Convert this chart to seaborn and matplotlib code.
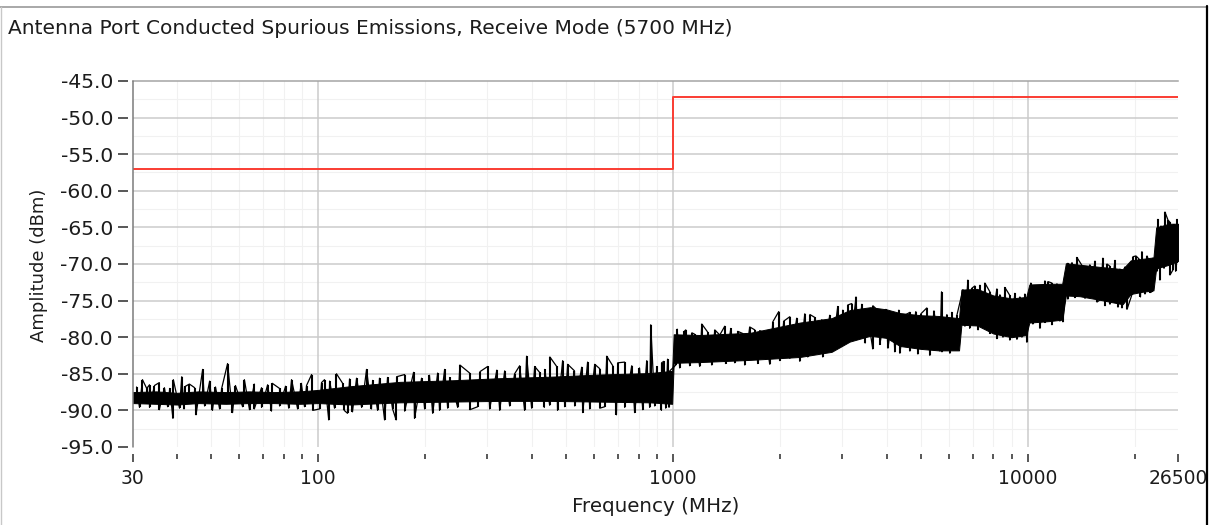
import numpy as np
import pandas as pd
import matplotlib
matplotlib.use("Agg")
import matplotlib.pyplot as plt
import seaborn as sns
from matplotlib.lines import Line2D
from matplotlib.patches import Rectangle
from matplotlib.ticker import FixedLocator, FixedFormatter, NullFormatter

# ---- data -------------------------------------------------------------
# limit line (dBm)
limit_mhz = [30, 1000, 26500]
limit_dbm = [-57.0, -47.2, -47.2]

# dense core of the measured trace: lower / upper edge
band_mhz = [30, 35, 40, 46, 55, 64, 75, 89, 100, 123, 170, 235, 325, 450, 620, 860, 995,
            1005, 1190, 1650, 2280, 2800, 3150, 3600, 4000, 4360, 5000, 5600, 6400,
            6500, 7200, 8000, 9000, 9900, 10100, 11500, 12500, 12800, 14000, 16000, 18500,
            19500, 21000, 22600, 23000, 25000, 26500]
band_lo = [-89.0, -89.1, -89.2, -89.0, -89.1, -89.0, -89.0, -89.1, -89.0,
           -89.2, -88.9, -88.8, -88.7, -88.7, -88.8, -88.9, -89.1,
           -83.5, -83.4, -83.1, -82.7, -82.0, -80.6, -79.8, -80.1, -81.2, -81.6, -81.8, -81.8,
           -78.3, -78.4, -79.5, -80.0, -79.7, -78.0, -77.8, -77.6, -74.3, -74.4, -74.9, -75.5,
           -74.1, -73.8, -73.6, -70.6, -70.1, -69.6]
band_hi = [-87.5, -87.4, -87.6, -87.4, -87.5, -87.4, -87.5, -87.4, -87.2,
           -86.7, -86.1, -85.9, -85.6, -85.4, -85.1, -84.9, -84.6,
           -79.6, -79.7, -79.4, -78.0, -77.4, -76.3, -75.9, -76.2, -76.7, -77.0, -77.1, -77.4,
           -73.5, -73.4, -74.3, -74.7, -74.5, -72.8, -72.7, -72.7, -69.9, -70.1, -70.4, -70.7,
           -69.5, -69.3, -69.1, -65.0, -64.5, -64.5]

# upward excursions of the trace
peak_mhz = [30.8, 32, 32.9, 33.5, 34.6, 35.7, 36.9, 38.2, 39.1, 41.3, 42.3, 43.4, 44.9,
            47.3, 49.5, 51.4, 53.5, 55.6, 58.5, 62, 66.1, 69.3, 72.1, 74.3, 77.9, 81.0,
            84.2, 89.7, 92.8, 95.9,
            102.3, 104.3, 107.8, 112.7, 117.3, 122.7, 128.4, 137, 142.5, 149, 157,
            166.5, 175.4, 185.9, 195.8, 206, 217.3, 227.4, 235, 251, 267.5, 286, 300.6,
            319, 335.7, 358, 369.9, 387, 407.8, 421, 435.3, 450, 470.4, 489, 505.2,
            528, 553.5, 575, 602.1, 622, 651, 676.8, 699, 731, 765.6, 805, 844, 866,
            900.3, 929, 942.3, 966, 979.8,
            1025, 1028, 1076, 1087, 1131, 1152, 1206, 1253, 1312, 1355, 1400, 1456,
            1523, 1574, 1646, 1701, 1756, 1815, 1912, 1987, 2053, 2135, 2234, 2353,
            2432, 2511, 2628, 2767, 2914, 3012, 3110, 3192, 3280, 3408, 3518, 3660,
            3828, 3981, 4165, 4332, 4503, 4653, 4836, 4998, 5194, 5439, 5713, 5916,
            6109, 6312,
            6564, 6778, 6960, 7093, 7330, 7569, 7821, 8183, 8346, 8617, 8902, 9196,
            9500, 9813,
            10203, 10470, 10820, 11175, 11395, 11695, 12081, 12398,
            12970, 13321, 13750, 14215, 14960, 15463, 16280, 16716, 17040, 17606,
            18180, 18787,
            19787, 20170, 20575, 20970, 21673, 22100, 22534,
            23270, 23731, 24350, 24837, 25150, 25823, 26330]
peak_dbm = [-86.8, -85.8, -87.0, -86.5, -86.6, -86.2, -86.9, -87.0, -85.8, -85.4, -86.7, -86.4, -86.9,
            -84.4, -86.0, -86.8, -87.0, -83.6, -86.6, -85.8, -86.4, -86.9, -86.5, -86.3, -87.0, -86.7,
            -85.8, -86.3, -86.6, -85.1,
            -86.2, -85.8, -86.0, -85.0, -86.3, -85.7, -85.6, -84.4, -85.9, -85.6, -85.5,
            -85.4, -85.1, -84.8, -85.6, -85.2, -84.9, -84.4, -85.5, -83.8, -84.9, -84.7, -84.0,
            -84.5, -84.6, -85.0, -83.9, -82.6, -84.0, -84.8, -84.4, -82.7, -84.0, -83.2, -83.7,
            -84.6, -84.1, -83.4, -83.7, -84.3, -82.6, -83.9, -83.5, -83.4, -83.9, -84.2, -83.2, -78.3,
            -84.0, -83.5, -83.3, -83.0, -84.6,
            -79.5, -78.9, -79.2, -79.0, -79.4, -79.6, -78.2, -79.3, -79.0, -79.7, -78.5, -78.8,
            -79.2, -79.5, -78.6, -79.0, -79.1, -79.4, -77.9, -76.5, -77.8, -77.2, -77.4, -76.8,
            -76.9, -77.3, -77.6, -77.0, -75.8, -76.3, -75.6, -75.4, -74.5, -75.5, -76.4, -75.7,
            -76.6, -76.2, -76.8, -76.3, -77.0, -76.6, -76.5, -76.8, -76.0, -76.4, -73.8, -76.9,
            -76.6, -77.0,
            -73.5, -72.2, -73.3, -73.0, -72.9, -72.6, -73.8, -73.4, -74.2, -73.2, -74.3, -74.0,
            -74.5, -74.1,
            -72.6, -73.0, -73.0, -72.3, -72.4, -72.6, -72.7, -73.0,
            -69.9, -69.8, -69.1, -70.2, -70.1, -69.6, -69.2, -70.0, -70.3, -69.5,
            -70.7, -70.4,
            -69.0, -68.9, -69.3, -68.3, -68.9, -70.0, -69.2,
            -63.9, -64.8, -62.9, -64.0, -64.3, -64.6, -63.9]

# downward excursions of the trace
dip_mhz = [31.4, 33.5, 35.7, 37.7, 39.0, 40.7, 41.9, 45.3, 47.9, 50.4, 52.8, 57.4, 61.3,
           64.1, 66.1, 69.3, 73.9, 77.9, 82.7, 87.6, 91.6, 96.6,
           101, 107.2, 111.3, 118.5, 121.1, 125, 132.7, 141.4, 147.2, 154, 162.2, 166,
           175.4, 187, 199.7, 210.4, 220, 231.9, 247.5, 268, 281.7, 304.5, 325, 346.8,
           382, 399.9, 434, 449.5, 473, 495.6, 528.9, 557, 582.9, 622, 642.3, 693,
           731.4, 780, 822.3, 860, 888.6, 928, 954.3, 975,
           1019, 1045, 1115, 1190, 1287, 1407, 1494, 1594, 1734, 1875, 2001, 2135,
           2278, 2399, 2511, 2644, 2825, 2953, 3090, 3192, 3320, 3480, 3658, 3828,
           4035, 4220, 4360, 4653, 4901, 5297, 5654, 5730, 6032, 6190,
           6650, 6860, 7240, 7473, 7821, 8183, 8511, 8902, 9319, 9625, 9942,
           10337, 10820, 11175, 11695, 12315, 12560,
           12970, 13580, 14493, 14960, 15665, 15970, 16502, 17040, 17952, 18425, 19030,
           19620, 20770, 21389, 22100, 22350,
           23121, 23570, 24201, 25150, 25655, 26100, 26500]
dip_dbm = [-89.6, -89.6, -89.9, -89.5, -91.1, -89.7, -89.8, -90.6, -89.4, -90.0, -89.8, -90.3, -89.5,
           -89.9, -89.8, -89.6, -90.1, -89.4, -89.7, -89.8, -89.5, -90.0,
           -89.8, -91.3, -89.7, -90.0, -90.4, -90.2, -89.6, -89.8, -90.0, -91.3, -89.8, -91.3,
           -90.1, -91.1, -89.8, -90.4, -90.0, -89.7, -89.6, -89.9, -89.5, -89.8, -90.0, -89.4,
           -90.0, -89.7, -89.6, -89.3, -90.0, -89.5, -89.4, -90.3, -89.8, -89.7, -89.5, -90.6,
           -89.6, -90.3, -89.9, -89.6, -89.4, -90.0, -89.7, -89.6,
           -83.8, -84.2, -83.9, -84.0, -83.8, -83.6, -83.5, -83.8, -83.6, -83.7, -83.2, -82.9,
           -83.3, -82.7, -82.0, -82.7, -81.0, -81.2, -80.0, -79.8, -80.3, -80.8, -81.6, -81.0,
           -81.5, -82.0, -82.2, -81.9, -82.3, -82.5, -81.9, -82.0, -82.2, -81.6,
           -78.5, -78.8, -79.0, -78.6, -79.5, -80.2, -80.0, -80.4, -80.3, -80.0, -80.7,
           -78.2, -78.8, -78.0, -78.3, -77.8, -77.9,
           -74.8, -74.6, -74.7, -74.6, -75.2, -74.9, -75.7, -75.5, -75.9, -76.0, -76.2,
           -74.3, -74.5, -74.1, -73.9, -73.8,
           -71.0, -72.2, -70.6, -71.5, -70.8, -71.0, -69.8]

# axis ticks
x_major = [30, 100, 1000, 10000, 26500]
x_major_labels = ["30", "100", "1000", "10000", "26500"]
x_minor = [40, 50, 60, 70, 80, 90, 200, 300, 400, 500, 600, 700, 800, 900,
           2000, 3000, 4000, 5000, 6000, 7000, 8000, 9000, 20000]
y_major = [-95, -90, -85, -80, -75, -70, -65, -60, -55, -50, -45]
y_minor = [-92.5, -87.5, -82.5, -77.5, -72.5, -67.5, -62.5, -57.5, -52.5, -47.5]

title = "Antenna Port Conducted Spurious Emissions, Receive Mode (5700 MHz)"

# ---- style ------------------------------------------------------------
sns.set_style("white")
plt.rcParams["font.family"] = ["DejaVu Sans"]
TXT = "#1c1c1c"
W, H = 1214, 525
fig = plt.figure(figsize=(W / 100, H / 100), dpi=100)
ax = fig.add_axes([132.5 / W, 1 - 447 / H, (1178 - 132.5) / W, (447 - 81) / H])
ax.set_xscale("log")
ax.set_xlim(30, 26500)
ax.set_ylim(-95, -45)

# grid
for v in x_minor:
    ax.axvline(v, color="#f1f1f1", lw=0.8, zorder=0)
for v in y_minor:
    ax.axhline(v, color="#f1f1f1", lw=0.8, zorder=0)
for v in x_major[1:-1]:
    ax.axvline(v, color="#cbcbcb", lw=1.1, zorder=0.5)
for v in y_major[1:-1]:
    ax.axhline(v, color="#cbcbcb", lw=1.1, zorder=0.5)

# measured trace: solid core, individual excursions and the sweep joining them
ax.fill_between(band_mhz, band_lo, band_hi, color="black", lw=0.7, zorder=2)
log_band = np.log10(band_mhz)
mid = (np.array(band_lo) + np.array(band_hi)) / 2
peaks = pd.DataFrame({"mhz": peak_mhz, "dbm": peak_dbm})
dips = pd.DataFrame({"mhz": dip_mhz, "dbm": dip_dbm})
for df in (peaks, dips):
    base = np.interp(np.log10(df["mhz"]), log_band, mid)
    ax.vlines(df["mhz"], base, df["dbm"], color="black", lw=1.5, zorder=2)
sweep = pd.concat([peaks, dips]).sort_values("mhz", kind="stable")
sns.lineplot(data=sweep, x="mhz", y="dbm", color="black", lw=0.9,
             estimator=None, sort=False, ax=ax, zorder=2)

# limit
sns.lineplot(x=limit_mhz, y=limit_dbm, drawstyle="steps-post", color="#fa3c32",
             lw=1.4, estimator=None, ax=ax, zorder=3)

# axes decoration
ax.xaxis.set_major_locator(FixedLocator(x_major))
ax.xaxis.set_major_formatter(FixedFormatter(x_major_labels))
ax.xaxis.set_minor_locator(FixedLocator(x_minor))
ax.xaxis.set_minor_formatter(NullFormatter())
ax.yaxis.set_major_locator(FixedLocator(y_major))
ax.yaxis.set_major_formatter(FixedFormatter([f"{v:.1f}" for v in y_major]))
ax.set_xlabel("")
ax.set_ylabel("")

ax.spines["right"].set_visible(False)
ax.spines["bottom"].set_position(("outward", 5))
ax.spines["bottom"].set_visible(False)
ax.spines["left"].set_position(("outward", 3))
ax.spines["left"].set_visible(False)
ax.spines["top"].set_color("#a4a4a4")
ax.spines["top"].set_linewidth(1.1)
ax.axvline(30, color="#7c7c7c", lw=1.1, clip_on=False, zorder=4)

ax.tick_params(axis="x", which="major", direction="out", length=6, width=1.1,
               color="#2a2a2a", pad=5, labelsize=13.5, labelcolor=TXT, bottom=True)
ax.tick_params(axis="x", which="minor", direction="out", length=3.5, width=1.1,
               color="#2a2a2a", bottom=True)
ax.tick_params(axis="y", which="major", direction="out", length=7, width=1.1,
               color="#2a2a2a", pad=4, labelsize=14.6, labelcolor=TXT, left=True)

fig.text(8 / W, 1 - 29 / H, title, fontsize=14.5, color=TXT, ha="left", va="center")
fig.text(39 / W, 1 - 265 / H, "Amplitude (dBm)", fontsize=13, color=TXT,
         rotation=90, ha="center", va="center")
fig.text(656 / W, 1 - 506 / H, "Frequency (MHz)", fontsize=14.3, color=TXT,
         ha="center", va="center")

# window frame
fig.add_artist(Rectangle((1208 / W, 0), 6 / W, 1, transform=fig.transFigure,
                         color="white", zorder=10))
fig.add_artist(Line2D([0, 1207 / W], [1 - 6.5 / H] * 2, transform=fig.transFigure,
                      color="#9a9a9a", lw=1.2, zorder=11))
fig.add_artist(Line2D([1.5 / W] * 2, [0, 1 - 6.5 / H], transform=fig.transFigure,
                      color="#c8c8c8", lw=1.0, zorder=11))
fig.add_artist(Line2D([1207 / W] * 2, [0, 1 - 6 / H], transform=fig.transFigure,
                      color="black", lw=1.6, zorder=11))

fig.savefig("out.png", dpi=100)
